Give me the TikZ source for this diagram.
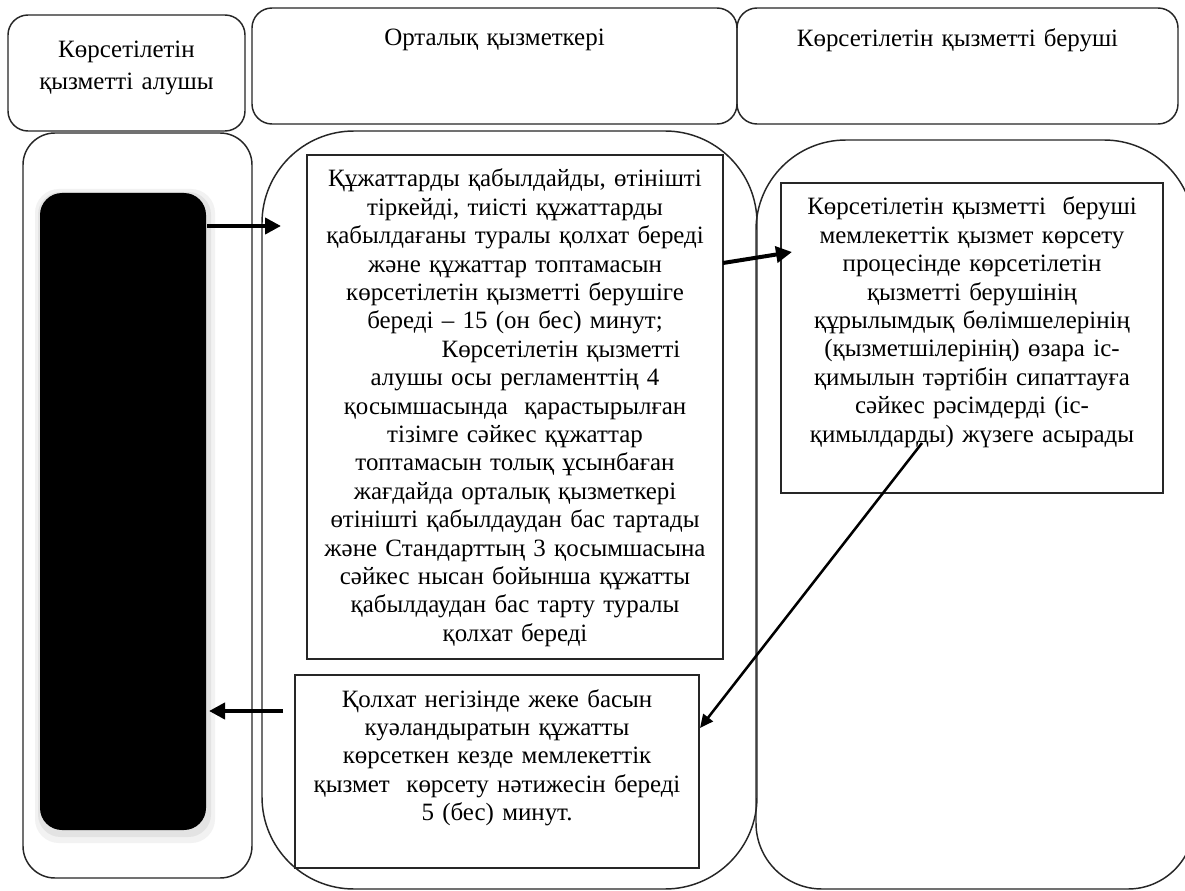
\documentclass[tikz,border=0pt]{standalone}
\usepackage{fontspec}
\setmainfont{Liberation Serif}
\usetikzlibrary{arrows.meta}
\begin{document}
\begin{tikzpicture}[x=0.75pt,y=-0.75pt,
  frame/.style={draw=black!85,line width=1.1pt},
  hdr/.style={draw=black!85,line width=1.1pt,rectangle,rounded corners=15pt,inner sep=0pt},
  procbox/.style={draw=black!85,line width=1.1pt,rectangle,inner sep=0pt},
  txt/.style={font=\fontsize{18.7}{21.3}\selectfont,align=center,inner sep=0pt,anchor=base},
  flow/.style={line width=3pt,-{Triangle[length=12pt,width=12pt]}},
  thinflow/.style={line width=1.9pt,-{Triangle[length=10pt,width=9pt]}}]
\useasboundingbox (0,0) rectangle (1185,891);
\clip (0,0) rectangle (1185,891);
\fill[white] (0,0) rectangle (1185,891);

% header boxes
\node[hdr,minimum width=177.75pt,minimum height=87pt] (h1) at (126.5,73) {};
\node[hdr,minimum width=363.75pt,minimum height=87pt] (h2) at (494.5,66) {};
\node[hdr,minimum width=330.75pt,minimum height=87pt] (h3) at (957.5,66) {};
\node[txt,text width=170pt] (h1t) at (126.5,58) {Көрсетілетін\\[2pt]қызметті алушы};
\node[txt,text width=340pt] (h2t) at (494.5,46) {Орталық қызметкері};
\node[txt,text width=320pt] (h3t) at (957.5,47) {Көрсетілетін қызметті беруші};

% lanes
\draw[frame,rounded corners=24pt] (23,133) rectangle (252,878);
\draw[frame,rounded corners=69pt] (262,131) rectangle (757,889);
\draw[frame] (756,823) arc[start angle=180,end angle=270,radius=49.5pt]
  -- (1128,889) arc[start angle=270,end angle=360,radius=49.5pt]
  -- (1194,230) arc[start angle=0,end angle=90,radius=67.5pt]
  -- (846,140) arc[start angle=90,end angle=180,radius=67.5pt] -- cycle;

% service receiver (black box with soft shadow)
\fill[black!5,rounded corners=18pt] (35,189) rectangle (215,843);
\fill[black!11,rounded corners=17pt] (38,192) rectangle (211,837);
\node[fill=black,rectangle,rounded corners=16.5pt,minimum width=124.5pt,minimum height=477.75pt,inner sep=0pt] (rcv) at (123,511.5) {};

% process boxes
\node[procbox,minimum width=312pt,minimum height=378pt] (b1) at (515,407) {};
\node[procbox,minimum width=286.5pt,minimum height=232.5pt] (b2) at (972,338) {};
\node[procbox,minimum width=303pt,minimum height=144.75pt] (b3) at (497,771.5) {};

\node[txt,text width=312pt] (t1) at (515,187) {Құжаттарды қабылдайды, өтінішті\\
тіркейді, тиісті құжаттарды\\
қабылдағаны туралы қолхат береді\\
және құжаттар топтамасын\\
көрсетілетін қызметті берушіге\\
береді – 15 (он бес) минут;\\
\hspace*{69pt}Көрсетілетін қызметті\\
алушы осы регламенттің 4\\
қосымшасында~ қарастырылған\\
тізімге сәйкес құжаттар\\
топтамасын толық ұсынбаған\\
жағдайда орталық қызметкері\\
өтінішті қабылдаудан бас тартады\\
және Стандарттың 3 қосымшасына\\
сәйкес нысан бойынша құжатты\\
қабылдаудан бас тарту туралы\\
қолхат береді};

\node[txt,text width=286pt] (t2) at (972,215) {Көрсетілетін қызметті~ беруші\\
мемлекеттік қызмет көрсету\\
процесінде көрсетілетін\\
қызметті берушінің\\
құрылымдық бөлімшелерінің\\
(қызметшілерінің) өзара іс-\\
қимылын тәртібін сипаттауға\\
сәйкес рәсімдерді (іс-\\
қимылдарды) жүзеге асырады};

\node[txt,text width=303pt] (t3) at (497,707) {Қолхат негізінде жеке басын\\
куәландыратын құжатты\\
көрсеткен кезде мемлекеттік\\
қызмет~ көрсету нәтижесін береді\\
5 (бес) минут.};

% connectors
\coordinate (a1s) at (207,226);
\coordinate (a1e) at (281,226);
\coordinate (a2s) at (723,263);
\coordinate (a2e) at (792,252);
\coordinate (a3s) at (922,443);
\coordinate (a3e) at (700,728);
\coordinate (a4s) at (283,711);
\coordinate (a4e) at (209,711);
\draw[flow] (a1s) -- (a1e);
\draw[flow] (a2s) -- (a2e);
\draw[thinflow] (a3s) -- (a3e);
\draw[flow] (a4s) -- (a4e);
\end{tikzpicture}
\end{document}
